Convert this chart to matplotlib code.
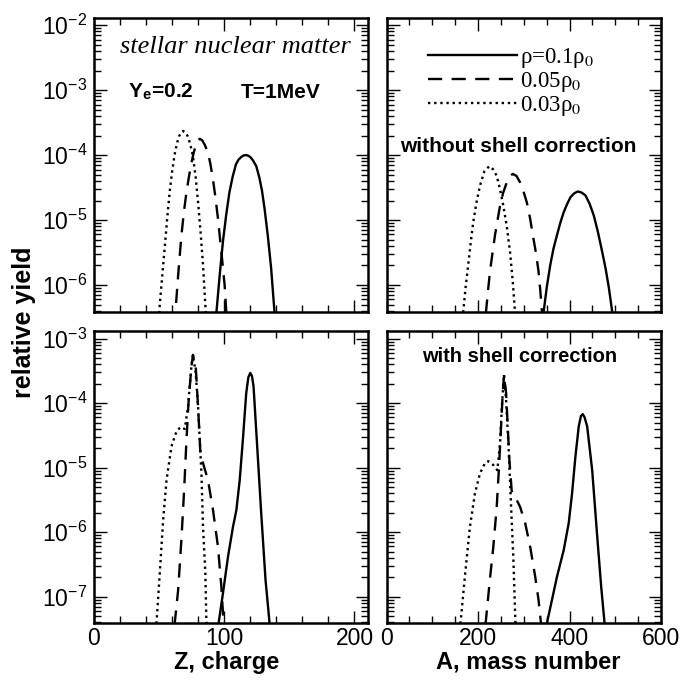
import numpy as np
import matplotlib
matplotlib.use("Agg")
import matplotlib.pyplot as plt
from matplotlib.ticker import MultipleLocator, LogLocator, NullFormatter
from matplotlib.lines import Line2D

plt.rcParams['font.family'] = ['Liberation Sans', 'DejaVu Sans']
plt.rcParams['mathtext.fontset'] = 'stix'

# curves: x positions and log10(relative yield)
# top-left: Z, without shell correction
z_nosh_01 = [92, 94, 96.5, 99, 101.5, 104, 106.5, 109, 111, 113, 115, 116.5, 118, 120, 122, 124.6, 127, 129, 131, 133.5, 136, 138.6, 140]
lg_z_nosh_01 = [-6.8, -6.42, -5.85, -5.33, -4.92, -4.57, -4.33, -4.14, -4.07, -4.03, -4.005, -4.0, -4.005, -4.03, -4.08, -4.17, -4.35, -4.55, -4.83, -5.25, -5.74, -6.42, -6.8]
z_nosh_005 = [60, 62.5, 64.8, 67.1, 69, 71, 73, 74.8, 76.7, 78.6, 80, 81.2, 83, 85, 87.5, 89.5, 91.3, 93.3, 95.2, 97.8, 100.3, 101.6, 103]
lg_z_nosh_005 = [-7.0, -6.42, -5.8, -5.24, -4.88, -4.57, -4.32, -4.12, -3.95, -3.83, -3.77, -3.75, -3.77, -3.84, -3.96, -4.15, -4.37, -4.66, -4.98, -5.49, -6.0, -6.42, -6.9]
z_nosh_003 = [48, 50, 52, 54.4, 56.3, 58.2, 60, 62, 63.7, 65.3, 67, 68.4, 70.3, 72.2, 74, 76, 78, 79.9, 81.8, 83.7, 85.8, 87]
lg_z_nosh_003 = [-7.0, -6.42, -5.95, -5.4, -4.95, -4.55, -4.25, -3.98, -3.82, -3.71, -3.65, -3.63, -3.65, -3.72, -3.84, -4.02, -4.33, -4.72, -5.18, -5.69, -6.42, -6.9]

# top-right: A, without shell correction
a_nosh_01 = [338, 343.3, 350.6, 358, 365, 372.7, 380, 387.3, 395, 402, 410, 418, 426, 434.9, 444, 453.1, 462, 471.5, 479, 486, 493.5, 498]
lg_a_nosh_01 = [-6.8, -6.42, -6.02, -5.69, -5.44, -5.23, -5.04, -4.88, -4.75, -4.65, -4.59, -4.56, -4.575, -4.62, -4.75, -4.93, -5.18, -5.49, -5.75, -6.04, -6.42, -6.8]
a_nosh_005 = [212, 217.4, 222, 226.2, 232, 237.2, 243, 248.2, 255, 262.9, 269, 276, 284, 292, 299, 306.8, 314, 321.3, 327, 332.3, 336, 339.8, 344]
lg_a_nosh_005 = [-6.8, -6.42, -6.08, -5.79, -5.49, -5.23, -4.99, -4.78, -4.58, -4.42, -4.33, -4.29, -4.32, -4.42, -4.55, -4.73, -4.98, -5.29, -5.52, -5.79, -6.07, -6.42, -6.8]
a_nosh_003 = [163, 167.6, 173, 178.6, 184, 189.6, 197, 204.3, 214, 224.7, 233, 240.9, 248, 255.4, 263, 270, 276, 281, 285]
lg_a_nosh_003 = [-6.8, -6.42, -6.03, -5.69, -5.35, -5.03, -4.72, -4.47, -4.25, -4.17, -4.22, -4.32, -4.52, -4.78, -5.1, -5.49, -5.95, -6.42, -6.8]

# bottom-left: Z, with shell correction
z_sh_01 = [94, 95.7, 99, 102.9, 106.7, 109.3, 111.9, 114.3, 116.9, 118.5, 120, 121.3, 122.5, 125, 128.4, 131.7, 134.8, 136]
lg_z_sh_01 = [-7.8, -7.41, -6.95, -6.38, -5.92, -5.66, -5.19, -4.57, -3.84, -3.6, -3.53, -3.58, -3.74, -4.57, -5.71, -6.74, -7.41, -7.8]
z_sh_005 = [61, 62, 64.6, 67.1, 69.2, 71, 72.7, 74.8, 76, 78.1, 79.9, 81.7, 83.7, 87.5, 91.4, 95.2, 97.8, 99.5, 100.5]
lg_z_sh_005 = [-7.8, -7.41, -6.9, -6.12, -5.35, -4.57, -3.95, -3.43, -3.25, -3.43, -4.05, -4.78, -4.93, -5.19, -5.66, -6.23, -6.85, -7.41, -7.8]
z_sh_003 = [47, 48, 50.5, 53.1, 55.7, 59.5, 63.3, 66.4, 69.7, 72.2, 74.8, 76, 78.1, 79.9, 81.2, 82.5, 83.7, 85.5, 86.3, 87]
lg_z_sh_003 = [-7.8, -7.41, -6.64, -5.81, -5.19, -4.67, -4.44, -4.37, -4.40, -4.05, -3.43, -3.25, -3.53, -4.05, -4.57, -5.09, -5.92, -6.64, -7.41, -7.8]

# bottom-right: A, with shell correction
a_sh_01 = [346, 350.7, 361.7, 372.7, 387.3, 398.3, 405.6, 412.9, 420.2, 425, 429, 433, 438.6, 449.6, 460.6, 469.3, 476.6, 479]
lg_a_sh_01 = [-7.8, -7.41, -7.05, -6.69, -6.28, -5.86, -5.40, -4.83, -4.36, -4.2, -4.17, -4.22, -4.36, -5.04, -6.07, -6.85, -7.41, -7.8]
a_sh_005 = [213, 216.7, 226.2, 233.5, 240.9, 246, 250.4, 254.1, 257, 261.4, 265, 268.6, 273.8, 281.1, 292.1, 303.1, 314.1, 325, 332.3, 337.6, 340]
lg_a_sh_005 = [-7.8, -7.41, -6.72, -6.23, -5.61, -4.98, -4.36, -3.84, -3.56, -3.84, -4.36, -4.88, -5.37, -5.45, -5.61, -5.86, -6.23, -6.69, -7.05, -7.41, -7.8]
a_sh_003 = [158, 161.8, 171.3, 182.3, 193.3, 204.3, 215.2, 222.6, 233.5, 242.3, 248.2, 252.6, 257, 261.4, 266.4, 271.7, 277.4, 281.8, 283]
lg_a_sh_003 = [-7.8, -7.41, -6.69, -5.92, -5.40, -5.09, -4.93, -4.90, -4.96, -5.04, -4.62, -4.0, -3.56, -3.95, -4.62, -5.50, -6.43, -7.41, -7.8]

labels = ['ρ=0.1ρ$_0$', '0.05ρ$_0$', '0.03ρ$_0$']
styles = ['-', (0, (6, 4)), (0, (1, 1.6))]

W, H = 683, 684
fig = plt.figure(figsize=(W / 100, H / 100), dpi=100)


def px_axes(x0, x1, y0, y1):
    return fig.add_axes([x0 / W, 1 - y1 / H, (x1 - x0) / W, (y1 - y0) / H])


ax_tl = px_axes(94, 367.5, 18, 312)
ax_tr = px_axes(386.5, 661, 18, 312)
ax_bl = px_axes(94, 367.5, 331, 623)
ax_br = px_axes(386.5, 661, 331, 623)

panels = [
    (ax_tl, [(z_nosh_01, lg_z_nosh_01), (z_nosh_005, lg_z_nosh_005), (z_nosh_003, lg_z_nosh_003)]),
    (ax_tr, [(a_nosh_01, lg_a_nosh_01), (a_nosh_005, lg_a_nosh_005), (a_nosh_003, lg_a_nosh_003)]),
    (ax_bl, [(z_sh_01, lg_z_sh_01), (z_sh_005, lg_z_sh_005), (z_sh_003, lg_z_sh_003)]),
    (ax_br, [(a_sh_01, lg_a_sh_01), (a_sh_005, lg_a_sh_005), (a_sh_003, lg_a_sh_003)]),
]

for ax, curves in panels:
    for (x, lg), ls in zip(curves, styles):
        ax.plot(x, 10 ** np.array(lg), color='k', ls=ls, lw=1.7)
    ax.set_yscale('log')
    ax.yaxis.set_major_locator(LogLocator(base=10, numticks=20))
    ax.yaxis.set_minor_locator(LogLocator(base=10, subs=np.arange(2, 10), numticks=20))
    ax.yaxis.set_minor_formatter(NullFormatter())
    ax.tick_params(which='both', direction='in', top=True, right=True, width=1.0, labelsize=16.5)
    ax.tick_params(axis='x', pad=3)
    ax.tick_params(axis='y', pad=5)
    ax.tick_params(which='major', length=9)
    ax.tick_params(which='minor', length=5)
    for sp in ax.spines.values():
        sp.set_linewidth(1.8)

for ax in (ax_tl, ax_bl):
    ax.set_xlim(0, 210)
    ax.xaxis.set_major_locator(MultipleLocator(100))
    ax.xaxis.set_minor_locator(MultipleLocator(20))
for ax in (ax_tr, ax_br):
    ax.set_xlim(0, 600)
    ax.xaxis.set_major_locator(MultipleLocator(200))
    ax.xaxis.set_minor_locator(MultipleLocator(50))
    ax.tick_params(labelleft=False)
for ax in (ax_tl, ax_tr):
    ax.set_ylim(10 ** -6.415, 10 ** -1.89)
    ax.tick_params(labelbottom=False)
for ax in (ax_bl, ax_br):
    ax.set_ylim(10 ** -7.41, 10 ** -2.88)


def ftext(x, y, s, **kw):
    fig.text(x / W, 1 - y / H, s, **kw)


ftext(120, 52.7, 'stellar nuclear matter', family='Liberation Serif', style='italic',
      fontsize=19, va='baseline', ha='left')
ftext(128, 97.5, 'Y$_{\\mathdefault{e}}$=0.2', fontsize=15, weight='bold', va='baseline', ha='left')
ftext(241, 97.5, 'T=1MeV', fontsize=15, weight='bold', va='baseline', ha='left')
ftext(518, 147, 'without shell correction', fontsize=15, weight='bold', va='center', ha='center')
ftext(520, 357, 'with shell correction', fontsize=14.5, weight='bold', va='center', ha='center')
ftext(24, 322, 'relative yield', fontsize=18, weight='bold', rotation=90, va='center', ha='center')
ftext(227, 669, 'Z, charge', fontsize=17, weight='bold', va='baseline', ha='center')
ftext(528, 669, 'A, mass number', fontsize=17, weight='bold', va='baseline', ha='center')

handles = [Line2D([], [], color='k', ls=ls, lw=1.7) for ls in styles]
leg = ax_tr.legend(handles, labels, loc='upper left', bbox_to_anchor=((428 - 386.5) / 274.5, 1 - (46 - 18) / 294),
                   frameon=False, borderpad=0, borderaxespad=0, handlelength=3.9, handletextpad=0.1,
                   labelspacing=0.0, prop={'family': 'Liberation Serif', 'size': 16.5})

fig.savefig('out.png', dpi=100)
